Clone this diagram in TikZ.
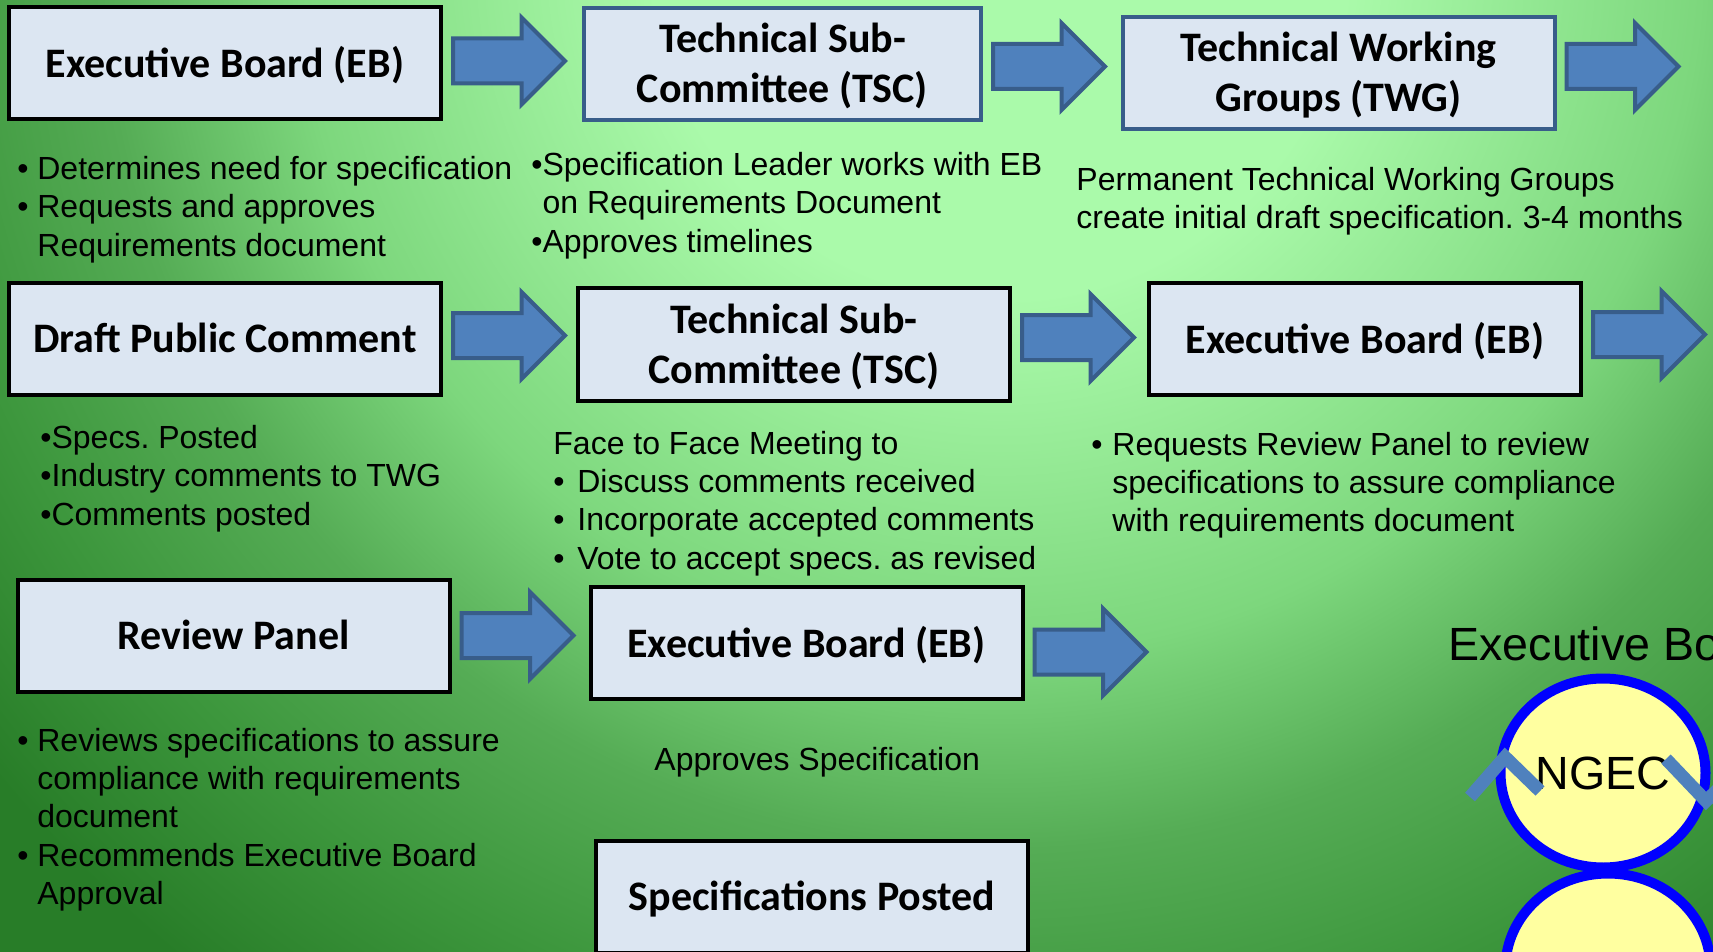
\documentclass[tikz,border=0pt]{standalone}
\usepackage{xcolor}
\usepackage{fontspec}
\setmainfont{Liberation Sans}
\newfontfamily\titlefont{Carlito}
\usepackage{tikz}
\usetikzlibrary{backgrounds}
\usetikzlibrary{shapes,arrows,arrows.meta}
\usetikzlibrary{positioning}
\definecolor{bglight}{RGB}{170,250,170}
\definecolor{bgmida}{RGB}{125,215,125}
\definecolor{bgmidb}{RGB}{85,172,85}
\definecolor{bgmidc}{RGB}{60,150,60}
\definecolor{bgdark}{RGB}{40,125,40}
\definecolor{boxfill}{RGB}{220,230,242}
\definecolor{arrowfill}{RGB}{79,129,189}
\definecolor{arrowline}{RGB}{56,93,138}
\definecolor{ngecfill}{RGB}{255,255,160}
\definecolor{ngecline}{RGB}{0,0,255}
\pgfdeclareradialshading{bgshade}{\pgfpoint{0bp}{0bp}}{color(0bp)=(bglight);
    color(6.7bp)=(bglight); color(13.5bp)=(bgmida); color(17.3bp)=(bgmidb);
    color(21.2bp)=(bgmidc); color(25bp)=(bgdark); color(50bp)=(bgdark)}
\tikzstyle{block} = [rectangle, draw, fill=boxfill, line width=2pt, inner sep=0pt,
    minimum width=216pt, minimum height=56pt, align=center, text depth=1pt,
    font=\titlefont\bfseries\fontsize{21}{25}\selectfont]
\tikzstyle{blockblue} = [block, draw=arrowline]
\tikzstyle{bigarrow} = [single arrow, draw=arrowline, fill=arrowfill, line width=2pt,
    inner xsep=0pt, inner ysep=10.25pt, minimum height=56pt,
    single arrow head extend=10.5pt, node distance=4pt]
\tikzstyle{notes} = [anchor=north west, align=left, inner sep=0pt,
    font=\fontsize{16}{19.2}\selectfont]
\tikzstyle{ngec} = [ellipse, draw=ngecline, fill=ngecfill, line width=5pt,
    minimum width=102.5pt, minimum height=94.5pt, inner sep=0pt,
    font=\fontsize{23.3}{28}\selectfont]
\tikzstyle{ngecstroke} = [draw=arrowfill, line width=6.5pt]
\newcommand{\itm}[1][10pt]{\makebox[#1][l]{•}}
\frenchspacing

\begin{document}
\begin{tikzpicture}[x=0.5pt,y=-0.5pt]
    \useasboundingbox (0,0) rectangle (1713,952);
    % background
    \fill[bgdark] (0,0) rectangle (1713,952);
    \shade[shading=bgshade] (1000,-50) circle [radius=650pt];
    % Place nodes
    \node [block] (eb1) at (225,63) {Executive Board (EB)};
    \node [blockblue, minimum width=198.5pt] (tsc1) at (782.5,64) {Technical Sub-\\Committee (TSC)};
    \node [blockblue] (twg) at (1338.5,73) {Technical Working\\Groups (TWG)};
    \node [block] (dpc) at (225,339) {Draft Public Comment};
    \node [block] (tsc2) at (794,344.5) {Technical Sub-\\Committee (TSC)};
    \node [block] (eb2) at (1365,339) {Executive Board (EB)};
    \node [block] (rp) at (233.5,635.5) {Review Panel};
    \node [block] (eb3) at (806.5,643) {Executive Board (EB)};
    \node [block] (sp) at (812,896.5) {Specifications Posted};
    % Draw arrows
    \node [bigarrow, right=of eb1, yshift=1pt] (a1) {};
    \node [bigarrow, right=of tsc1, yshift=-1.25pt] (a2) {};
    \node [bigarrow, right=of twg, yshift=3.25pt] (a3) {};
    \node [bigarrow, right=of dpc, yshift=1.75pt] (a4) {};
    \node [bigarrow, right=of tsc2, yshift=3.5pt] (a5) {};
    \node [bigarrow, right=of eb2, yshift=2.25pt] (a6) {};
    \node [bigarrow, right=of rp] (a7) {};
    \node [bigarrow, right=of eb3, yshift=-4.5pt] (a8) {};
    % Notes
    \node [notes] (ebnotes) at (17,156) {\itm Determines need for specification\\
        \itm Requests and approves\\ \hspace*{10pt}Requirements document};
    \node [notes] (tscnotes) at (531,152) {•Specification Leader works with EB\\
        \hphantom{•}on Requirements Document\\ •Approves timelines};
    \node [notes] (twgnotes) at (1076,167) {Permanent Technical Working Groups\\
        create initial draft specification. 3-4 months};
    \node [notes] (dpcnotes) at (40,425) {•Specs. Posted\\ •Industry comments to TWG\\
        •Comments posted};
    \node [notes] (meetnotes) at (553,430.5) {Face to Face Meeting to\\
        \itm[12pt]Discuss comments received\\ \itm[12pt]Incorporate accepted comments\\
        \itm[12pt]Vote to accept specs. as revised};
    \node [notes] (eb2notes) at (1091,431.5) {\itm[10.5pt]Requests Review Panel to review\\
        \hspace*{10.5pt}specifications to assure compliance\\
        \hspace*{10.5pt}with requirements document};
    \node [notes] (rpnotes) at (17,727.5) {\itm Reviews specifications to assure\\
        \hspace*{10pt}compliance with requirements\\ \hspace*{10pt}document\\
        \itm Recommends Executive Board\\ \hspace*{10pt}Approval};
    \node [notes] (eb3notes) at (654,747) {Approves Specification};
    % NGEC figure
    \node [anchor=base west, inner sep=0pt, font=\fontsize{23.3}{28}\selectfont] (ebtitle)
        at (1448,660) {Executive Bo};
    \node [ngec] (body) at (1608,968) {};
    \node [ngec] (head) at (1603,773) {\raisebox{-2pt}{NGEC}};
    \draw [ngecstroke] (1470,797) -- (1505,757) -- (1540,791);
    \draw [ngecstroke] (1666,759) -- (1706,801) -- (1748,760);
\end{tikzpicture}
\end{document}
